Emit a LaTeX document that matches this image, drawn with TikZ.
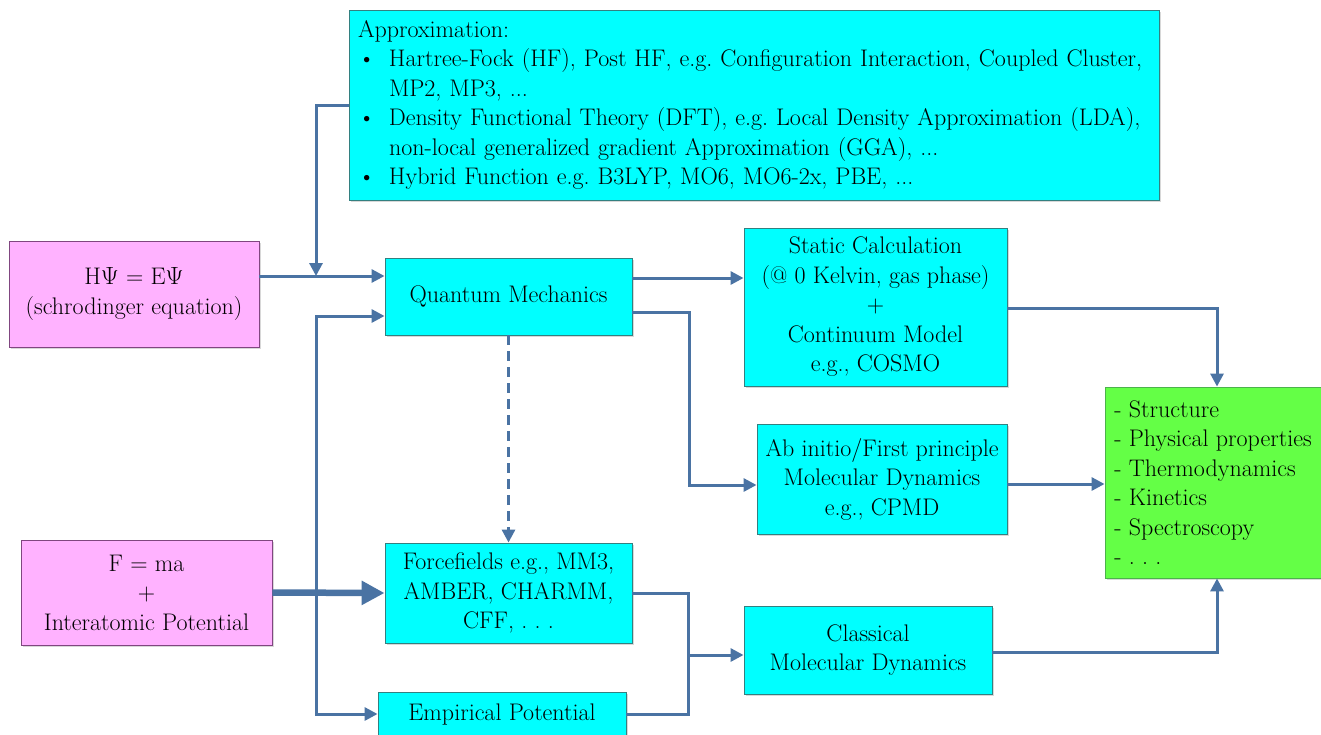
\documentclass[tikz,border=0pt]{standalone}
\usetikzlibrary{arrows.meta, calc, shadows}
\definecolor{Cq}{RGB}{0,255,255}
\definecolor{Cp}{RGB}{255,178,255}
\definecolor{Cg}{RGB}{100,255,70}
\definecolor{Ca}{RGB}{74,115,163}
\colorlet{Bq}{teal!60!gray}
\colorlet{Bp}{violet!45!gray}
\colorlet{Bg}{green!40!gray}
\tikzset{
  base/.style  = {line width=0.9pt, inner sep=0pt, align=center,
                  font=\fontsize{24}{29.5}\selectfont,
                  drop shadow={shadow xshift=2pt, shadow yshift=-2pt,
                               opacity=0.3}},
  qbox/.style  = {base, draw=Bq, fill=Cq},
  pbox/.style  = {base, draw=Bp, fill=Cp},
  gbox/.style  = {base, draw=Bg, fill=Cg, align=left},
  arr/.style   = {-{Triangle[length=13pt, width=13pt]}, line width=3pt, Ca},
  lnk/.style   = {line width=3pt, Ca},
  arrb/.style  = {-{Triangle[length=23pt, width=23pt]}, line width=6.5pt, Ca},
  arrd/.style  = {-{Triangle[length=13pt, width=13pt]}, line width=3pt, Ca,
                  dash pattern=on 10pt off 6pt},
}
\newcommand{\itm}{\makebox[31pt][l]{\textbullet}}
\newcommand{\cnt}{\hspace*{31pt}}
\frenchspacing

\begin{document}
\begin{tikzpicture}[x=1pt, y=-1pt]

\fill[white] (0,0) rectangle (1321,734);
\useasboundingbox (0,0) rectangle (1321,734);

%%──────────────────────────────────────────────────
%% Equations (left)
%%──────────────────────────────────────────────────
\node[pbox, minimum width=250pt, minimum height=106pt] (hse) at (134,294)
  {H$\Psi$ = E$\Psi$\\(schrodinger equation)};

\node[pbox, minimum width=251pt, minimum height=105pt] (fma) at (146.5,592.5)
  {F = ma\\+\\Interatomic Potential};

%%──────────────────────────────────────────────────
%% Approximation box (top)
%%──────────────────────────────────────────────────
\node[qbox, text width=792pt, inner sep=9pt, align=left,
      minimum height=190pt] (approx) at (754,105)
  {Approximation:\\
   \itm Hartree-Fock (HF), Post HF, e.g. Configuration Interaction, Coupled Cluster,\\
   \cnt MP2, MP3, ...\\
   \itm Density Functional Theory (DFT), e.g. Local Density Approximation (LDA),\\
   \cnt non-local generalized gradient Approximation (GGA), ...\\
   \itm Hybrid Function e.g. B3LYP, MO6, MO6-2x, PBE, ...};

%%──────────────────────────────────────────────────
%% Methods (middle)
%%──────────────────────────────────────────────────
\node[qbox, minimum width=247pt, minimum height=77pt] (qm) at (508.5,296.5)
  {Quantum Mechanics};

\node[qbox, minimum width=247pt, minimum height=100pt] (ff) at (508.5,593)
  {Forcefields e.g., MM3,\\AMBER, CHARMM,\\CFF, . . .};

\node[qbox, minimum width=248pt, minimum height=44pt] (emp) at (502,714)
  {Empirical Potential};

\node[qbox, minimum width=263pt, minimum height=158pt] (stat) at (875.5,307)
  {Static Calculation\\(@ 0 Kelvin, gas phase)\\+\\Continuum Model\\e.g., COSMO};

\node[qbox, minimum width=250pt, minimum height=110pt] (abin) at (882,479)
  {Ab initio/First principle\\Molecular Dynamics\\e.g., CPMD};

\node[qbox, minimum width=248pt, minimum height=88pt] (cmd) at (868,650)
  {Classical\\Molecular Dynamics};

%%──────────────────────────────────────────────────
%% Results (right)
%%──────────────────────────────────────────────────
\node[gbox, minimum width=216pt, minimum height=191pt] (res) at (1213,482.5)
  {- Structure\\- Physical properties\\- Thermodynamics\\- Kinetics\\- Spectroscopy\\- . . .};

%%──────────────────────────────────────────────────
%% Connectors
%%──────────────────────────────────────────────────
\coordinate (jq) at (316,276);
\coordinate (jf) at (316,594);
\coordinate (jc) at (688,655);

\draw[arr] ($(hse.east)+(0,-18)$) coordinate (a1) -- (a1 -| qm.west);
\draw[arr] (approx.west) -| (jq);

\draw[arrb] (fma.east) -- (ff.west);
\draw[arr] (jf) |- ($(qm.west)+(0,19.5)$);
\draw[arr] (jf) |- (emp.west);

\draw[arr] ($(qm.east)+(0,-18.5)$) coordinate (a2) -- (a2 -| stat.west);
\draw[arr] ($(qm.east)+(0,15.5)$) -- ++(57,0) |- ($(abin.west)+(0,6)$);
\draw[arrd] (qm.south) -- (ff.north);

\draw[lnk] (ff.east) -| (jc);
\draw[lnk] (emp.east) -| (jc);
\draw[arr] (jc) -- (jc -| cmd.west);

\draw[arr] ($(stat.east)+(0,1)$) -| ($(res.north)+(4,0)$);
\draw[arr] ($(abin.east)+(0,5)$) coordinate (a3) -- (a3 -| res.west);
\draw[arr] ($(cmd.east)+(0,2)$) -| ($(res.south)+(4,0)$);

\end{tikzpicture}
\end{document}
